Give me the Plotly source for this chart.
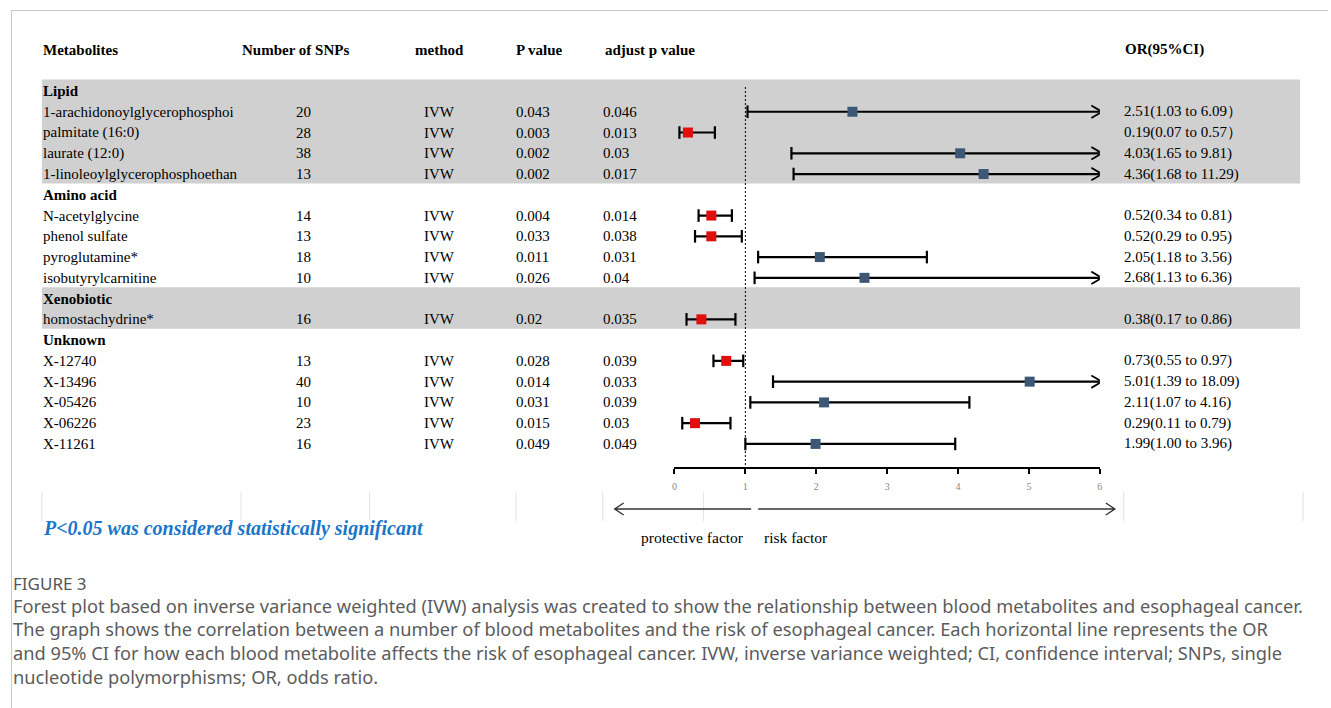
import plotly.graph_objects as go

W, H = 1331, 708

# ---- data ----
groups = ["Lipid", "Amino acid", "Xenobiotic", "Unknown"]
group_sizes = [4, 4, 1, 5]
metabolites = [
    "1-arachidonoylglycerophosphoi", "palmitate (16:0)", "laurate (12:0)",
    "1-linoleoylglycerophosphoethan",
    "N-acetylglycine", "phenol sulfate", "pyroglutamine*", "isobutyrylcarnitine",
    "homostachydrine*",
    "X-12740", "X-13496", "X-05426", "X-06226", "X-11261",
]
snps = ["20", "28", "38", "13", "14", "13", "18", "10", "16", "13", "40", "10", "23", "16"]
methods = ["IVW"] * 14
p_values = ["0.043", "0.003", "0.002", "0.002", "0.004", "0.033", "0.011", "0.026",
            "0.02", "0.028", "0.014", "0.031", "0.015", "0.049"]
adj_p_values = ["0.046", "0.013", "0.03", "0.017", "0.014", "0.038", "0.031", "0.04",
                "0.035", "0.039", "0.033", "0.039", "0.03", "0.049"]
odds_ratio = [2.51, 0.19, 4.03, 4.36, 0.52, 0.52, 2.05, 2.68, 0.38, 0.73, 5.01, 2.11, 0.29, 1.99]
ci_low = [1.03, 0.07, 1.65, 1.68, 0.34, 0.29, 1.18, 1.13, 0.17, 0.55, 1.39, 1.07, 0.11, 1.00]
ci_high = [6.09, 0.57, 9.81, 11.29, 0.81, 0.95, 3.56, 6.36, 0.86, 0.97, 18.09, 4.16, 0.79, 3.96]
or_labels = [
    "2.51(1.03 to 6.09\uff09", "0.19(0.07 to 0.57\uff09", "4.03(1.65 to 9.81)",
    "4.36(1.68 to 11.29)", "0.52(0.34 to 0.81)", "0.52(0.29 to 0.95)",
    "2.05(1.18 to 3.56)", "2.68(1.13 to 6.36)", "0.38(0.17 to 0.86)",
    "0.73(0.55 to 0.97)", "5.01(1.39 to 18.09)", "2.11(1.07 to 4.16)",
    "0.29(0.11 to 0.79)", "1.99(1.00 to 3.96)",
]
axis_ticks = [0, 1, 2, 3, 4, 5, 6]
headers = ["Metabolites", "Number of SNPs", "method", "P value", "adjust p value", "OR(95%CI)"]
shaded_groups = ["Lipid", "Xenobiotic"]

# ---- layout helpers ----
X_MAX = axis_ticks[-1]
ROW0_PX, ROW_STEP = 91.0, 20.76          # pixel centre of first row, row pitch


def px(x):
    return x / W


def py(y):
    return 1 - y / H


SERIF = "Liberation Serif, Times New Roman, serif"
TXT = 15
RED, BLUE = "#e20d0d", "#3d5875"

# row indices for group headers and items
header_rows, item_rows, item_group = [], [], []
r = 0
for g, n in zip(groups, group_sizes):
    header_rows.append(r)
    r += 1
    for _ in range(n):
        item_rows.append(r)
        item_group.append(g)
        r += 1

fig = go.Figure()

# CI lines (clipped at the axis maximum)
lx, ly = [], []
for lo, hi, rr in zip(ci_low, ci_high, item_rows):
    lx += [lo, min(hi, X_MAX), None]
    ly += [rr, rr, None]
fig.add_trace(go.Scatter(x=lx, y=ly, mode="lines", line=dict(color="black", width=2.2),
                         hoverinfo="skip", cliponaxis=False))

# end caps
cx, cy = [], []
for lo, hi, rr in zip(ci_low, ci_high, item_rows):
    cx.append(lo)
    cy.append(rr)
    if hi <= X_MAX:
        cx.append(hi)
        cy.append(rr)
fig.add_trace(go.Scatter(x=cx, y=cy, mode="markers", cliponaxis=False, hoverinfo="skip",
                         marker=dict(symbol="line-ns", size=9,
                                     line=dict(color="black", width=2.2))))

# open arrow heads for intervals running past the axis
ax_, ay_ = [], []
for hi, rr in zip(ci_high, item_rows):
    if hi > X_MAX:
        ax_ += [X_MAX - 0.12, X_MAX + 0.03, X_MAX - 0.12, None]
        ay_ += [rr - 0.3, rr, rr + 0.3, None]
fig.add_trace(go.Scatter(x=ax_, y=ay_, mode="lines", line=dict(color="black", width=1.8),
                         hoverinfo="skip", cliponaxis=False))

# point estimates
fig.add_trace(go.Scatter(
    x=odds_ratio, y=item_rows, mode="markers", cliponaxis=False,
    marker=dict(symbol="square", size=10,
                color=[RED if o < 1 else BLUE for o in odds_ratio],
                line=dict(width=0)),
    hovertext=metabolites, hoverinfo="text+x"))

shapes = []
# grey bands behind shaded groups
for g, hr, n in zip(groups, header_rows, group_sizes):
    if g in shaded_groups:
        shapes.append(dict(type="rect", xref="paper", yref="y", layer="below",
                           x0=px(40), x1=px(1303), y0=hr - 0.55, y1=hr + n + 0.45,
                           fillcolor="#d0d0d0", line=dict(width=0)))

# reference line at OR = 1
AXIS_PX = 468
shapes.append(dict(type="line", xref="x", yref="paper", x0=1, x1=1,
                   y0=py(87), y1=py(AXIS_PX),
                   line=dict(color="black", width=1, dash="2px,2px")))

# faint table cell borders under the plot
for xb in [40, 240, 369, 516, 603, 704, 1126, 1306]:
    shapes.append(dict(type="line", xref="paper", yref="paper", x0=px(xb), x1=px(xb),
                       y0=py(492), y1=py(521), line=dict(color="#e2e2e2", width=1)))

# protective / risk direction arrows
AR_Y = 509
shapes.append(dict(type="path", xref="paper", yref="paper",
                   path=f"M{px(752)},{py(AR_Y)} L{px(615)},{py(AR_Y)} "
                        f"M{px(624)},{py(AR_Y - 6)} L{px(615)},{py(AR_Y)} L{px(624)},{py(AR_Y + 6)}",
                   line=dict(color="#333", width=1.4)))
shapes.append(dict(type="path", xref="paper", yref="paper",
                   path=f"M{px(759)},{py(AR_Y)} L{px(1117)},{py(AR_Y)} "
                        f"M{px(1108)},{py(AR_Y - 6)} L{px(1117)},{py(AR_Y)} L{px(1108)},{py(AR_Y + 6)}",
                   line=dict(color="#333", width=1.4)))

# outer frame
shapes.append(dict(type="line", xref="paper", yref="paper", x0=px(9), x1=1,
                   y0=py(10.5), y1=py(10.5), line=dict(color="#c8c8c8", width=1)))
shapes.append(dict(type="line", xref="paper", yref="paper", x0=px(9.5), x1=px(9.5),
                   y0=py(10.5), y1=0, line=dict(color="#c8c8c8", width=1)))

annotations = []


def txt(x, y, s, yref="y", bold=False, size=TXT, color="black", font=SERIF,
        xanchor="left", italic=False):
    if bold:
        s = f"<b>{s}</b>"
    if italic:
        s = f"<i>{s}</i>"
    annotations.append(dict(x=x, y=y, xref="paper", yref=yref, text=s, showarrow=False,
                            xanchor=xanchor, yanchor="middle",
                            xshift=-3 if xanchor == "left" else 0,
                            font=dict(family=font, size=size, color=color)))


# column headers
header_x = [42, 242, 416, 517, 606, 1128]
for hx, h in zip(header_x, headers):
    txt(px(hx), py(50), h, yref="paper", bold=True)

# group headers
for g, hr in zip(groups, header_rows):
    txt(px(42), hr, g, bold=True)

# table rows
for i, rr in enumerate(item_rows):
    txt(px(42), rr, metabolites[i])
    txt(px(296), rr, snps[i])
    txt(px(425), rr, methods[i])
    txt(px(517), rr, p_values[i])
    txt(px(604), rr, adj_p_values[i])
    txt(px(1127), rr, or_labels[i])

# notes under the plot
txt(px(42), py(528), "P<0.05 was considered statistically significant", yref="paper",
    bold=True, italic=True, size=20, color="#1a76c9")
txt(px(693), py(537), "protective factor", yref="paper", size=15.5, xanchor="center")
txt(px(797), py(537), "risk factor", yref="paper", size=15.5, xanchor="center")

# figure caption
CAP = "Noto Sans, sans-serif"
txt(px(12), py(583), "FIGURE 3", yref="paper", size=17, color="#555", font=CAP)
caption_lines = [
    "Forest plot based on inverse variance weighted (IVW) analysis was created to show the relationship between blood metabolites and esophageal cancer.",
    "The graph shows the correlation between a number of blood metabolites and the risk of esophageal cancer. Each horizontal line represents the OR",
    "and 95% CI for how each blood metabolite affects the risk of esophageal cancer. IVW, inverse variance weighted; CI, confidence interval; SNPs, single",
    "nucleotide polymorphisms; OR, odds ratio.",
]
for k, line in enumerate(caption_lines):
    txt(px(12), py(605 + 23.7 * k), line, yref="paper", size=18.25, color="#5c5c5c", font=CAP)

fig.update_layout(
    width=W, height=H, margin=dict(l=0, r=0, t=0, b=0),
    paper_bgcolor="white", plot_bgcolor="rgba(0,0,0,0)",
    showlegend=False, shapes=shapes, annotations=annotations,
    xaxis=dict(domain=[px(675), px(1102)], range=[0, X_MAX], anchor="free",
               position=py(AXIS_PX), showgrid=False, zeroline=False,
               showline=True, linecolor="black", linewidth=2,
               ticks="outside", ticklen=5, tickwidth=2, tickcolor="black",
               tickvals=axis_ticks, ticktext=[str(t) for t in axis_ticks],
               tickfont=dict(family=SERIF, size=10, color="#888"),
               ticklabelstandoff=4, fixedrange=True),
    yaxis=dict(domain=[0, 1],
               range=[(H - ROW0_PX) / ROW_STEP, -ROW0_PX / ROW_STEP],
               visible=False, fixedrange=True),
)

fig.write_html("out.html")
